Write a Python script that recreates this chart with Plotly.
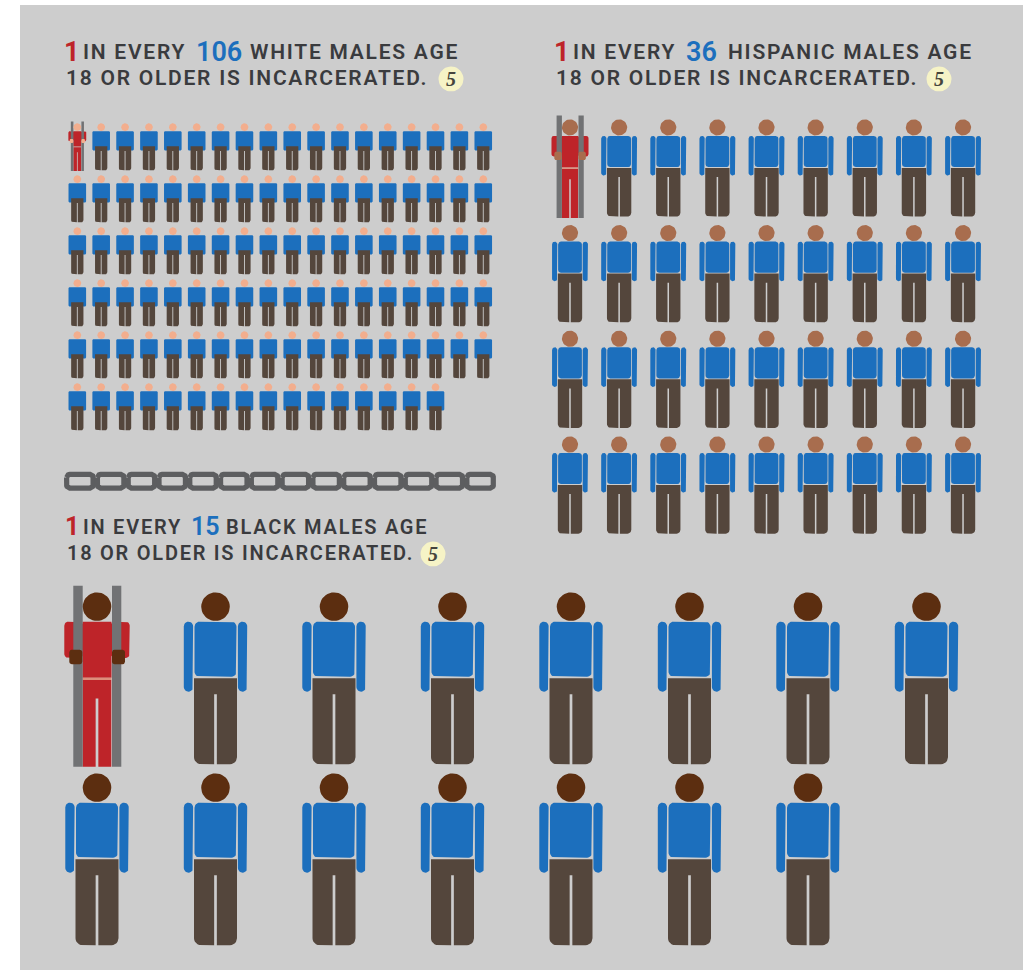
import math
import plotly.graph_objects as go

# ---- data ----
groups = ["White", "Hispanic", "Black"]
one_in_every = [106, 36, 15]
per_row = [18, 9, 8]
incarcerated = [1, 1, 1]
line_ends = ["WHITE MALES AGE", "HISPANIC MALES AGE", "BLACK MALES AGE"]
second_line = "18 OR OLDER IS INCARCERATED."
footnote = "5"
chain_links = 14

# ---- layout constants ----
W, H = 1032, 970
PANEL = "#CDCDCD"
BLUE, PANTS, RED, BAR, BELT = "#1C6FBD", "#54463C", "#BE2429", "#717274", "#DD8F7B"
TEXT, NOTE = "#3A3B3E", "#F6F3C6"
head_cols = ["#F2AE8E", "#A86D4E", "#5C2E10"]
# x0, dx, y0 (head top), dy, scale
grids = [(77.3, 23.88, 123.3, 52.0, 0.273),
         (570.0, 49.13, 119.3, 105.7, 0.566),
         (97.0, 118.5, 592.4, 181.0, 1.0)]
# text x-positions: "1", "IN EVERY", number, ending, line 2, badge x; y1, y2, badge y, size, spacing
text_pos = [dict(x=[63.5, 83, 196, 250, 66, 451], y=[52, 78, 79], size=21, ls=1.75, num=27),
            dict(x=[553.5, 573, 686, 728, 556, 939], y=[52, 78, 79], size=21, ls=1.75, num=27),
            dict(x=[64.5, 83, 191, 226, 67, 433], y=[527, 553, 554], size=20, ls=1.75, num=25)]


def rrect(x0, x1, y0, y1, r_top=0.0, r_bot=0.0):
    pts = []
    def arc(cx, cy, r, a0, a1):
        if r <= 0:
            pts.append((cx, cy))
            return
        for i in range(7):
            a = math.radians(a0 + (a1 - a0) * i / 6)
            pts.append((cx + r * math.cos(a), cy + r * math.sin(a)))
    arc(x0 + r_top, y0 + r_top, r_top, 180, 270)
    arc(x1 - r_top, y0 + r_top, r_top, 270, 360)
    arc(x1 - r_bot, y1 - r_bot, r_bot, 0, 90)
    arc(x0 + r_bot, y1 - r_bot, r_bot, 90, 180)
    pts.append(pts[0])
    return pts


def circle(cx, cy, r):
    return [(cx + r * math.cos(2 * math.pi * i / 40), cy + r * math.sin(2 * math.pi * i / 40)) for i in range(41)]


def trousers(half, y0, y1, slit_y, slit_w, r):
    out = [(-half, y0), (half, y0), (half, y1 - r)]
    for i in range(1, 7):
        a = math.radians(90 * i / 6)
        out.append((half - r + r * math.cos(a), y1 - r + r * math.sin(a)))
    out += [(slit_w / 2, y1), (slit_w / 2, slit_y), (-slit_w / 2, slit_y), (-slit_w / 2, y1)]
    for i in range(0, 7):
        a = math.radians(90 + 90 * i / 6)
        out.append((-half + r + r * math.cos(a), y1 - r + r * math.sin(a)))
    out.append((-half, y0))
    return out


FREE = {
    "torso": [rrect(-21, 21, 29.3, 84.3, 5, 5)],
    "arms": [rrect(-31.7, -22.4, 29.3, 99.3, 4.6, 4.6), rrect(22.4, 31.7, 29.3, 99.3, 4.6, 4.6)],
    "pants": [trousers(21.5, 85.9, 171.9, 101.9, 2.7, 7)],
}
# at the smallest scale the shirt and arms read as a single block
FREE_SMALL = {
    "torso": [rrect(-32.2, 32.2, 29.3, 99.3, 3, 3)],
    "arms": [],
    "pants": [trousers(22.5, 84.3, 171.9, 101.9, 3.2, 7)],
}
JAILED = {
    "red": [rrect(-14.5, 14.5, 29.3, 85.3), trousers(14.3, 87.6, 174.3, 106, 2.7, 0.01),
            rrect(-32.7, -14, 29.3, 65.6, 4, 4), rrect(14, 32.7, 29.3, 65.6, 4, 4)],
    "belt": [rrect(-14.5, 14.5, 85.3, 87.6)],
    "bars": [rrect(-23.7, -14.3, -6.7, 174.3), rrect(15, 24.3, -6.7, 174.3)],
    "hands": [rrect(-27.7, -14.7, 57.3, 71.9, 2.5, 2.5), rrect(15, 28, 57.3, 71.9, 2.5, 2.5)],
}
HEAD = [circle(0, 14.3, 14.3)]


def place(shapes, cx, top, s):
    xs, ys = [], []
    for poly in shapes:
        xs += [cx + p[0] * s for p in poly] + [None]
        ys += [top + p[1] * s for p in poly] + [None]
    return xs, ys


class Bag:
    def __init__(self):
        self.x, self.y = [], []

    def add(self, shapes, cx, top, s):
        a, b = place(shapes, cx, top, s)
        self.x += a
        self.y += b


fig = go.Figure()


def poly_trace(bag, color, name):
    fig.add_trace(go.Scatter(x=bag.x, y=bag.y, mode="lines", fill="toself", fillcolor=color,
                             line=dict(width=0, color=color), hoverinfo="skip", name=name,
                             showlegend=False))


for g, n, row_n, jail, hc, (x0, dx, y0, dy, s) in zip(groups, one_in_every, per_row, incarcerated, head_cols, grids):
    blue, pants, heads, red, belt, bars, hands = Bag(), Bag(), Bag(), Bag(), Bag(), Bag(), Bag()
    tmpl = FREE_SMALL if s < 0.4 else FREE
    for i in range(n):
        r, c = divmod(i, row_n)
        cx, top = x0 + c * dx, y0 + r * dy
        heads.add(HEAD, cx, top, s)
        if i < jail:
            red.add(JAILED["red"], cx, top, s)
            belt.add(JAILED["belt"], cx, top, s)
            bars.add(JAILED["bars"], cx, top, s)
            hands.add(JAILED["hands"], cx, top, s)
        else:
            blue.add(tmpl["torso"], cx, top, s)
            blue.add(tmpl["arms"], cx, top, s)
            pants.add(tmpl["pants"], cx, top, s)
    poly_trace(blue, BLUE, g + " shirts")
    poly_trace(pants, PANTS, g + " trousers")
    poly_trace(red, RED, g + " jailed")
    poly_trace(belt, BELT, g + " belt")
    poly_trace(bars, BAR, g + " bars")
    poly_trace(heads, hc, g + " heads")
    poly_trace(hands, hc, g + " hands")

# chain: rounded link outlines
cx0, cx1, cy0, cy1, sw = 64.0, 496.0, 471.7, 490.7, 5.2
pitch = (cx1 - cx0 - 1) / chain_links
cx, cy = [], []
for k in range(chain_links):
    xa = cx0 + sw / 2 + k * pitch
    xb = xa + pitch + 1 - sw
    link = rrect(xa, xb, cy0 + sw / 2, cy1 - sw / 2, 3.2, 3.2)
    cx += [p[0] for p in link] + [None]
    cy += [p[1] for p in link] + [None]
fig.add_trace(go.Scatter(x=cx, y=cy, mode="lines", line=dict(width=sw, color="#5D5E60"),
                         hoverinfo="skip", showlegend=False, name="chain"))

# badges
bx, by = [], []
for tp in text_pos:
    c = circle(tp["x"][5], tp["y"][2], 12.5)
    bx += [p[0] for p in c] + [None]
    by += [p[1] for p in c] + [None]
fig.add_trace(go.Scatter(x=bx, y=by, mode="lines", fill="toself", fillcolor=NOTE, line=dict(width=0),
                         hoverinfo="skip", showlegend=False, name="badges"))

FONT = "Roboto"


def label(txt, x, y, size, color, ls, weight=600, family=FONT):
    fig.add_annotation(x=x, y=y, xref="x", yref="y", xanchor="left", yanchor="middle", showarrow=False,
                       borderpad=0, borderwidth=0,
                       text=f'<span style="letter-spacing:{ls}px">{txt}</span>',
                       font=dict(family=family, size=size, color=color, weight=weight))


for tp, n, end in zip(text_pos, one_in_every, line_ends):
    xs, ys, sz, ls = tp["x"], tp["y"], tp["size"], tp["ls"]
    label("1", xs[0], ys[0] - 0.5, tp["num"], RED, 0, 700)
    label("IN EVERY", xs[1], ys[0], sz, TEXT, ls)
    label(str(n), xs[2], ys[0] - 0.5, tp["num"], BLUE, 0, 600)
    label(end, xs[3], ys[0], sz, TEXT, ls)
    label(second_line, xs[4], ys[1], sz, TEXT, ls)
    fig.add_annotation(x=xs[5], y=ys[2], xref="x", yref="y", xanchor="center", yanchor="middle", showarrow=False,
                       text=f"<b><i>{footnote}</i></b>",
                       font=dict(family="Liberation Serif", size=20, color="#45443C"))

fig.update_layout(
    width=W, height=H, autosize=False, margin=dict(l=0, r=0, t=0, b=0),
    paper_bgcolor="white", plot_bgcolor="white", showlegend=False,
    xaxis=dict(range=[0, W], visible=False, fixedrange=True),
    yaxis=dict(range=[H, 0], visible=False, fixedrange=True),
    shapes=[dict(type="rect", xref="x", yref="y", x0=20, x1=1023, y0=5, y1=970,
                 fillcolor=PANEL, line=dict(width=0), layer="below")],
)
fig.write_html("out.html", config={"displayModeBar": False},
               post_script="document.body.style.margin='0';document.documentElement.style.overflow='hidden';")
